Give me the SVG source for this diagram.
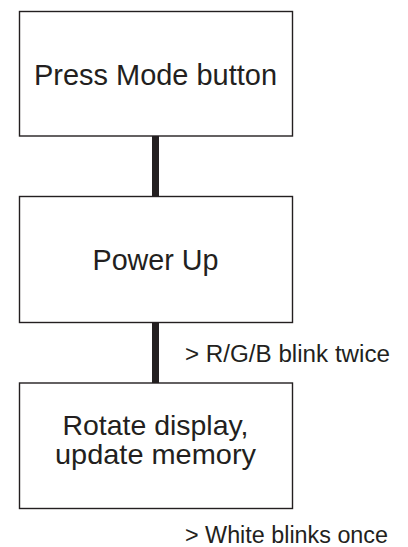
<svg xmlns="http://www.w3.org/2000/svg" width="408" height="547" viewBox="0 0 408 547">
<style>
.box{fill:#fff;stroke:#231f20;stroke-width:1.4}
.t{font-family:"Liberation Sans",Arial,sans-serif;font-size:30px;fill:#231f20;text-anchor:middle}
.t2{font-size:28px}
.lbl{font-family:"Liberation Sans",Arial,sans-serif;font-size:23.5px;fill:#231f20}
.con{stroke:#231f20;stroke-width:7;fill:none}
</style>
<rect width="408" height="547" fill="#fff"/>
<g id="connectors">
<line class="con" x1="155.5" y1="136" x2="155.5" y2="196"/>
<line class="con" x1="155.5" y1="323" x2="155.5" y2="383"/>
</g>
<g id="node-press">
<rect class="box" x="19.5" y="11.5" width="273" height="124.5"/>
<text class="t" x="155.5" y="84.5" textLength="243" lengthAdjust="spacingAndGlyphs">Press Mode button</text>
</g>
<g id="node-power">
<rect class="box" x="19.5" y="196.5" width="273" height="126"/>
<text class="t" x="155.5" y="270" textLength="126" lengthAdjust="spacingAndGlyphs">Power Up</text>
</g>
<g id="label-rgb">
<text class="lbl" x="185" y="362" textLength="205" lengthAdjust="spacingAndGlyphs">&gt; R/G/B blink twice</text>
</g>
<g id="node-rotate">
<rect class="box" x="19.5" y="383" width="273" height="125.5"/>
<text class="t t2" x="155.5" y="435" textLength="186" lengthAdjust="spacingAndGlyphs">Rotate display,</text>
<text class="t t2" x="155.5" y="464" textLength="201" lengthAdjust="spacingAndGlyphs">update memory</text>
</g>
<g id="label-white">
<text class="lbl" x="185" y="543" textLength="203" lengthAdjust="spacingAndGlyphs">&gt; White blinks once</text>
</g>
</svg>
